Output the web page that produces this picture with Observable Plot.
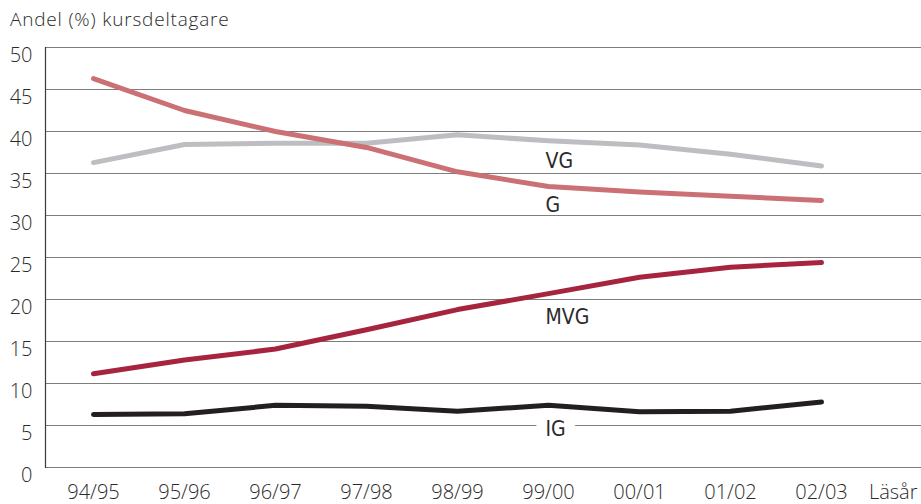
<!DOCTYPE html>
<html>
<head>
<meta charset="utf-8">
<script src="https://cdn.jsdelivr.net/npm/d3@7"></script>
<script src="https://cdn.jsdelivr.net/npm/@observablehq/plot@0.6"></script>
<style>
  body { margin: 0; background: white; }
  #wrap { width: 921px; height: 504px; position: relative; overflow: hidden; font-family: "Open Sans", "Liberation Sans", Arial, sans-serif; color: #2b2b2b; }
  #title { position: absolute; left: 10px; top: 10px; font-size: 19px; letter-spacing: 0.8px; font-weight: 300; line-height: 1; white-space: nowrap; }
  #chart { position: absolute; left: 0; top: 34px; }
</style>
</head>
<body>
<div id="wrap">
  <div id="title">Andel (%) kursdeltagare</div>
  <div id="chart"></div>
</div>
<script>
const years = ["94/95", "95/96", "96/97", "97/98", "98/99", "99/00", "00/01", "01/02", "02/03"];
const seriesNames = ["VG", "G", "MVG", "IG"];
const vg  = [36.3, 38.45, 38.6, 38.6, 39.6, 38.9, 38.4, 37.3, 35.9];
const g   = [46.3, 42.5, 40.0, 38.1, 35.2, 33.45, 32.8, 32.3, 31.8];
const mvg = [11.15, 12.8, 14.1, 16.4, 18.8, 20.7, 22.65, 23.85, 24.4];
const ig  = [6.3, 6.4, 7.4, 7.3, 6.7, 7.4, 6.65, 6.7, 7.8];
const colors = ["#bdbec2", "#cb7175", "#a6243e", "#231f20"];
const yTicks = [0, 5, 10, 15, 20, 25, 30, 35, 40, 45, 50];
const xLabel = "Läsår";
// label anchors (series name placed near the 99/00 column)
const labelYear = "99/00";
const labelValues = [36.4, 31.2, 17.85, 4.5];

const valuesBySeries = [vg, g, mvg, ig];
const rows = [];
seriesNames.forEach((s, i) => years.forEach((yr, j) => rows.push({series: s, year: yr, value: valuesBySeries[i][j]})));
const labels = seriesNames.map((s, i) => ({series: s, year: labelYear, value: labelValues[i]}));

const narrow = "'Liberation Sans Narrow', 'DejaVu Sans Condensed', 'Arial Narrow', sans-serif";
const tickFont = "'Open Sans', 'Liberation Sans', Arial, sans-serif";

const chart = Plot.plot({
  width: 921,
  height: 470,
  marginTop: 13,
  marginLeft: 45,
  marginRight: 0,
  marginBottom: 37,
  style: {fontFamily: tickFont, fontSize: "20px", fontWeight: 300, color: "#2b2b2b", background: "white", overflow: "visible"},
  x: {type: "point", domain: years, range: [90, 823], padding: 0, label: null},
  y: {domain: [0, 50], label: null},
  color: {domain: seriesNames, range: colors},
  marks: [
    Plot.gridY(yTicks, {stroke: "#7d7d7d", strokeOpacity: 1, strokeWidth: 1}),
    Plot.frame({anchor: "left", stroke: "#3a3a3a", strokeWidth: 1.2}),
    Plot.axisY({ticks: yTicks, tickSize: 0, tickPadding: 13, dy: 8, label: null, fontSize: 20}),
    Plot.axisX({tickSize: 0, tickPadding: 17, label: null, fontSize: 20}),
    Plot.text([xLabel], {frameAnchor: "bottom-right", dx: -4, dy: 17, textAnchor: "end", lineAnchor: "top", fontSize: 20}),
    Plot.text(labels.filter(d => d.series === "IG"), {x: "year", y: "value", text: "series", textAnchor: "start", dx: -3, lineAnchor: "middle", fill: "white", stroke: "white", strokeWidth: 22, fontFamily: narrow, fontSize: 21}),
    Plot.line(rows, {x: "year", y: "value", z: "series", stroke: "series", strokeWidth: 5, strokeLinecap: "round", strokeLinejoin: "round"}),
    Plot.text(labels, {x: "year", y: "value", text: "series", textAnchor: "start", dx: -3, lineAnchor: "middle", fill: "#2b2b2b", fontFamily: narrow, fontSize: 21})
  ]
});
document.getElementById("chart").appendChild(chart);
</script>
</body>
</html>
